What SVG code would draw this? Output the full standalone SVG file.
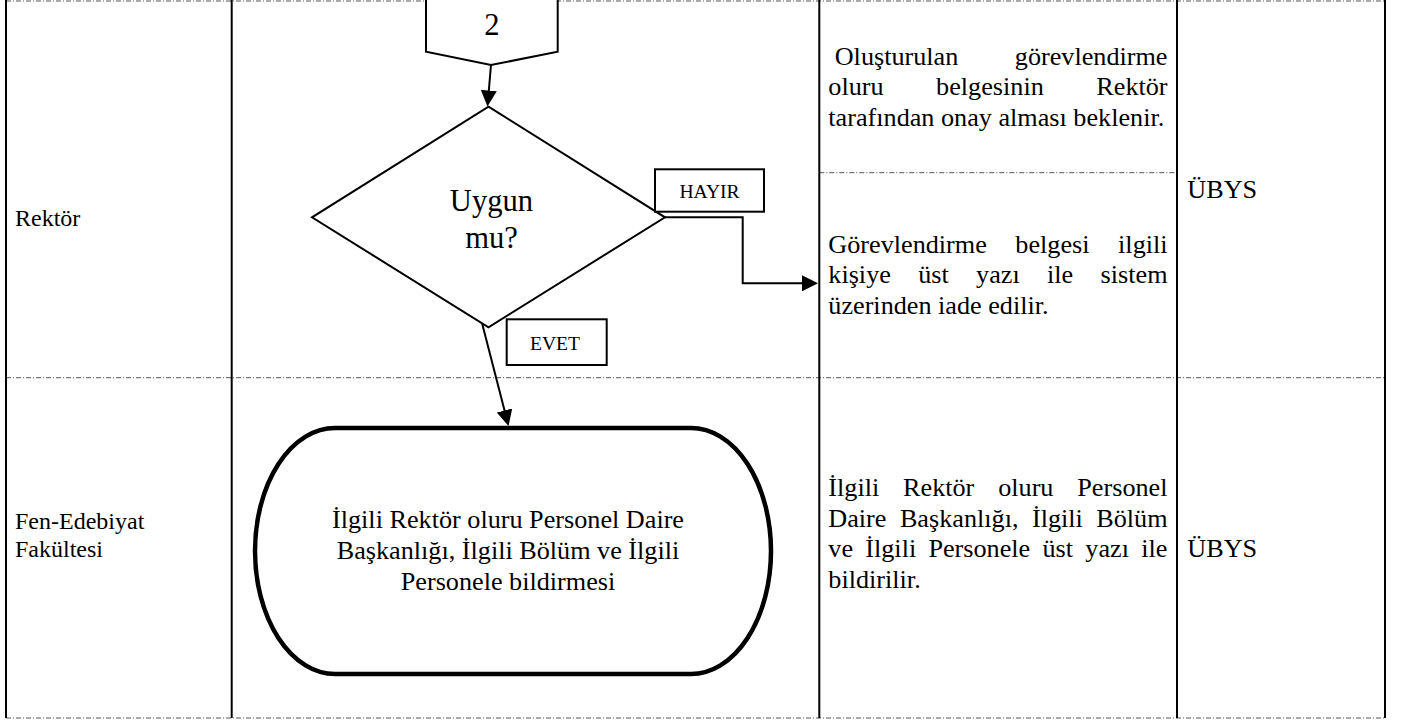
<svg xmlns="http://www.w3.org/2000/svg" width="1404" height="724" viewBox="0 0 1404 724">
  <defs>
    <marker id="arrow" viewBox="0 0 16 16" markerWidth="16" markerHeight="16" refX="12" refY="8" orient="auto" markerUnits="userSpaceOnUse">
      <path d="M0,0 L16,8 L0,16 z" fill="#000"/>
    </marker>
    <style>
      .t { font-family: "Liberation Serif", "Times New Roman", serif; fill: #000; }
      .lane { font-size: 24px; }
      .desc { font-size: 26.2px; }
      .lbl { font-size: 19.6px; }
      .big { font-size: 30.6px; }
      .grid { stroke: #000; stroke-width: 2; fill: none; }
      .dash { stroke: #555; stroke-width: 1; stroke-dasharray: 5 2 1 2; fill: none; }
      .shape { stroke: #000; stroke-width: 2; fill: #fff; }
      .conn { stroke: #000; stroke-width: 2; fill: none; }
    </style>
  </defs>
  <rect x="0" y="0" width="1404" height="724" fill="#fff"/>

  <g id="table">
    <line class="dash" x1="6" y1="1" x2="1385" y2="1"/>
    <line class="dash" x1="6" y1="377.7" x2="1385" y2="377.7"/>
    <line class="dash" x1="6" y1="718" x2="1385" y2="718"/>
    <line class="dash" x1="819.3" y1="172.7" x2="1177" y2="172.7"/>
    <line class="grid" x1="6" y1="0" x2="6" y2="718"/>
    <line class="grid" x1="231.7" y1="0" x2="231.7" y2="718"/>
    <line class="grid" x1="819.3" y1="0" x2="819.3" y2="718"/>
    <line class="grid" x1="1177" y1="0" x2="1177" y2="718"/>
    <line class="grid" x1="1385" y1="0" x2="1385" y2="718"/>
  </g>

  <g id="lane-labels">
    <text class="t lane" x="15" y="226">Rektör</text>
    <text class="t lane" x="15" y="529">Fen-Edebiyat</text>
    <text class="t lane" x="15" y="557">Fakültesi</text>
  </g>

  <g id="connectors">
    <line class="conn" x1="491" y1="65" x2="487.8" y2="102.5" marker-end="url(#arrow)"/>
    <polyline class="conn" stroke-width="3" points="665,217.3 742.7,217.3 742.7,283.3 814,283.3" marker-end="url(#arrow)"/>
    <line class="conn" x1="482" y1="323" x2="507.5" y2="422.1" marker-end="url(#arrow)"/>
  </g>

  <g id="node-connector2">
    <path class="shape" d="M426,-5 L426,51.7 L491,65 L557.7,51.7 L557.7,-5"/>
    <text class="t big" x="492" y="35" text-anchor="middle">2</text>
  </g>

  <g id="node-decision">
    <polygon class="shape" points="488.5,106.7 665,217.3 488.5,327.3 312,217.3"/>
    <text class="t big" x="491.5" y="210.7" text-anchor="middle">Uygun</text>
    <text class="t big" x="491.5" y="248.3" text-anchor="middle">mu?</text>
  </g>

  <g id="label-hayir">
    <rect class="shape" x="655" y="169.3" width="109" height="42.4"/>
    <text class="t lbl" x="709.5" y="198.3" text-anchor="middle">HAYIR</text>
  </g>

  <g id="label-evet">
    <rect class="shape" x="506.7" y="319.3" width="100" height="45.7"/>
    <text class="t lbl" x="555" y="350" text-anchor="middle">EVET</text>
  </g>

  <g id="node-terminator">
    <rect x="255" y="428" width="516" height="246" rx="80" ry="123" fill="#fff" stroke="#000" stroke-width="4.5"/>
    <text class="t desc" x="508" y="527.5" text-anchor="middle">İlgili Rektör oluru Personel Daire</text>
    <text class="t desc" x="508" y="558.5" text-anchor="middle">Başkanlığı, İlgili Bölüm ve İlgili</text>
    <text class="t desc" x="508" y="589.5" text-anchor="middle">Personele bildirmesi</text>
  </g>

  <g id="desc-1">
    <text class="t desc" x="834.7" y="64.5" word-spacing="49.9">Oluşturulan görevlendirme</text>
    <text class="t desc" x="828.3" y="95.2" word-spacing="46">oluru belgesinin Rektör</text>
    <text class="t desc" x="828.3" y="125.9">tarafından onay alması beklenir.</text>
  </g>

  <g id="desc-2">
    <text class="t desc" x="828.3" y="252.7" word-spacing="22">Görevlendirme belgesi ilgili</text>
    <text class="t desc" x="828.3" y="283.3" word-spacing="20.8">kişiye üst yazı ile sistem</text>
    <text class="t desc" x="828.3" y="314">üzerinden iade edilir.</text>
  </g>

  <g id="desc-3">
    <text class="t desc" x="828.3" y="496" word-spacing="17.3">İlgili Rektör oluru Personel</text>
    <text class="t desc" x="828.3" y="526.5" word-spacing="6.9">Daire Başkanlığı, İlgili Bölüm</text>
    <text class="t desc" x="828.3" y="557" word-spacing="5.7">ve İlgili Personele üst yazı ile</text>
    <text class="t desc" x="828.3" y="587.5">bildirilir.</text>
  </g>

  <g id="system">
    <text class="t desc" x="1187.3" y="198.3">ÜBYS</text>
    <text class="t desc" x="1187.3" y="556.7">ÜBYS</text>
  </g>
</svg>
